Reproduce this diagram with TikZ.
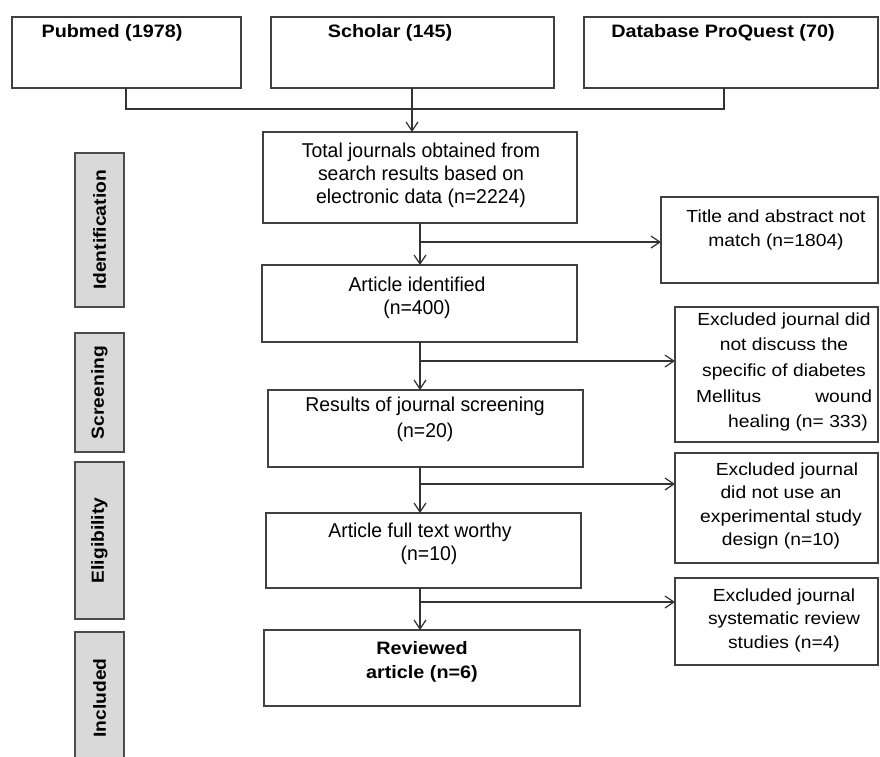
\documentclass[tikz,border=0pt]{standalone}
\usepackage{fontspec}
\setmainfont{Liberation Sans}[FakeStretch=1.1]
\newfontfamily\boxfont{Liberation Sans}[FakeStretch=0.97]
\usetikzlibrary{arrows.meta,fit}
\begin{document}
\begin{tikzpicture}[x=1pt,y=-1pt,
  box/.style={draw=black!75, line width=1.2pt, inner sep=0pt, outer sep=0pt},
  lab/.style={draw=black!70, fill=black!15, line width=1.3pt, inner sep=0pt, outer sep=0pt},
  txt/.style={align=center, inner sep=0pt, font=\fontsize{17.5}{23.5}\selectfont},
  mtxt/.style={align=center, inner sep=0pt, font=\boxfont\fontsize{20}{23}\selectfont},
  btxt/.style={align=center, inner sep=0pt, font=\fontsize{18}{23.5}\selectfont\bfseries},
  ltxt/.style={rotate=90, inner sep=0pt, font=\fontsize{17.5}{20}\selectfont\bfseries},
  arr/.style={line width=1.2pt, draw=black!80, -{Straight Barb[length=9pt,width=12pt,line width=1.2pt]}},
  ln/.style={line width=1.2pt, draw=black!80}]
\useasboundingbox (0,0) rectangle (880,756);
\clip (0,0) rectangle (880,756);
\fill[white] (0,0) rectangle (880,756);

% top source boxes
\node[box, fit={(12,17) (241,88)}] (pub) {};
\node[box, fit={(271,17) (554,88)}] (sch) {};
\node[box, fit={(584,17) (878,88)}] (pro) {};
\node[btxt] (pubt) at (112,33) {Pubmed (1978)};
\node[btxt] (scht) at (390,33) {Scholar (145)};
\node[btxt] (prot) at (723,33) {Database ProQuest (70)};

% main flow boxes
\node[box, fit={(263,132) (577,223)}] (tot) {};
\node[box, fit={(262,265) (577,342)}] (ident) {};
\node[box, fit={(268,390) (583,467)}] (res) {};
\node[box, fit={(266,513) (581,588)}] (full) {};
\node[box, fit={(264,630) (580,706)}] (rev) {};

\node[mtxt] (tott) at (421,175) {Total journals obtained from\\search results based on\\electronic data (n=2224)};
\node[mtxt] (identt) at (417,298) {Article identified\\(n=400)};
\node[mtxt] (rest) at (425,419) {Results of journal screening\\[3pt](n=20)};
\node[mtxt] (fullt) at (420,544) {Article full text worthy\\\hspace*{18pt}(n=10)};
\node[btxt] (revt) at (422,662) {Reviewed\\article (n=6)};

% exclusion boxes
\node[box, fit={(661,197) (878,283)}] (title) {};
\node[box, fit={(675,307) (878,442)}] (ex1) {};
\node[box, fit={(675,453) (878,563)}] (ex2) {};
\node[box, fit={(675,578) (878,665)}] (ex3) {};

\node[txt] (titlet) at (776,230) {Title and abstract not\\match (n=1804)};
\node[txt, font=\fontsize{17.5}{25.6}\selectfont] (ex1t) at (784,372) {Excluded journal did\\not discuss the\\specific of diabetes\\\makebox[176pt][s]{Mellitus\hfill wound}\\\hspace*{28pt}healing (n= 333)};
\node[txt] (ex2t) at (781,506) {\hspace*{12pt}Excluded journal\\did not use an\\experimental study\\design (n=10)};
\node[txt] (ex3t) at (784,620) {Excluded journal\\systematic review\\studies (n=4)};

% stage labels
\node[lab, fit={(75,153) (124,307)}] (lid) {};
\node[lab, fit={(75,333) (124,452)}] (lsc) {};
\node[lab, fit={(75,462) (124,619)}] (lel) {};
\node[lab, fit={(75,632) (124,768)}] (lin) {};
\node[ltxt] (lidt) at (lid.center) {Identification};
\node[ltxt] (lsct) at (lsc.center) {Screening};
\node[ltxt] (lelt) at (lel.center) {Eligibility};
\node[ltxt] (lint) at (99.5,698) {Included};

% source connectors
\coordinate (jl) at (126,109);
\coordinate (jr) at (724,109);
\coordinate (js) at (412,109);
\draw[ln] (pub.south -| jl) -- (jl) -- (jr) -- (pro.south -| jr);
\draw[arr] (sch.south -| js) -- (tot.north -| js);

% main vertical arrows
\coordinate (mx) at (420,0);
\draw[arr] (tot.south -| mx) -- (ident.north -| mx);
\draw[arr] (ident.south -| mx) -- (res.north -| mx);
\draw[arr] (res.south -| mx) -- (full.north -| mx);
\draw[arr] (full.south -| mx) -- (rev.north -| mx);

% branch arrows
\coordinate (b1) at (420,242);
\coordinate (b2) at (420,361);
\coordinate (b3) at (420,484);
\coordinate (b4) at (420,602);
\draw[arr] (b1) -- (b1 -| title.west);
\draw[arr] (b2) -- (b2 -| ex1.west);
\draw[arr] (b3) -- (b3 -| ex2.west);
\draw[arr] (b4) -- (b4 -| ex3.west);
\end{tikzpicture}
\end{document}
